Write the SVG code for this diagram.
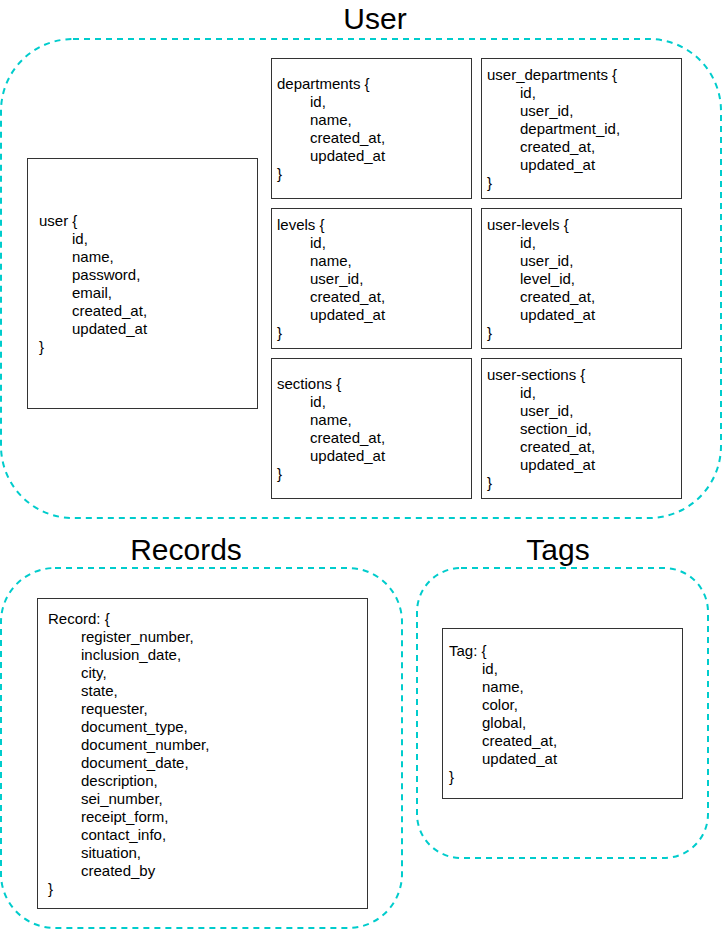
<svg xmlns="http://www.w3.org/2000/svg" width="722" height="929" viewBox="0 0 722 929">
<style>
.grp{fill:none;stroke:#00CCCC;stroke-width:2;stroke-dasharray:6 5}
.tbl{fill:#fff;stroke:#333;stroke-width:1}
.t{font-family:"Liberation Sans",Arial,sans-serif;font-size:15px;fill:#000}
.title{font-family:"Liberation Sans",Arial,sans-serif;font-size:30px;fill:#000;text-anchor:middle}
</style>
<rect width="722" height="929" fill="#fff"/>
<g id="group-user">
<rect class="grp" x="1" y="39" width="720" height="479" rx="72" ry="72"/>
<text class="title" x="375" y="29">User</text>
</g>
<g id="group-records">
<rect class="grp" x="1" y="568" width="401" height="360" rx="54" ry="54"/>
<text class="title" x="186" y="560">Records</text>
</g>
<g id="group-tags">
<rect class="grp" x="417" y="568" width="291" height="290" rx="44" ry="44"/>
<text class="title" x="558" y="560">Tags</text>
</g>
<g id="user">
<rect class="tbl" x="27.5" y="158.5" width="230" height="250"/>
<text class="t"><tspan x="39" y="226">user {</tspan><tspan x="72" y="244">id,</tspan><tspan x="72" y="262">name,</tspan><tspan x="72" y="280">password,</tspan><tspan x="72" y="298">email,</tspan><tspan x="72" y="316">created_at,</tspan><tspan x="72" y="334">updated_at</tspan><tspan x="39" y="352">}</tspan></text>
</g>
<g id="departments">
<rect class="tbl" x="271.5" y="58.5" width="200" height="140"/>
<text class="t"><tspan x="277" y="89">departments {</tspan><tspan x="310" y="107">id,</tspan><tspan x="310" y="125">name,</tspan><tspan x="310" y="143">created_at,</tspan><tspan x="310" y="161">updated_at</tspan><tspan x="277" y="179">}</tspan></text>
</g>
<g id="user_departments">
<rect class="tbl" x="481.5" y="58.5" width="200" height="140"/>
<text class="t"><tspan x="487" y="80">user_departments {</tspan><tspan x="520" y="98">id,</tspan><tspan x="520" y="116">user_id,</tspan><tspan x="520" y="134">department_id,</tspan><tspan x="520" y="152">created_at,</tspan><tspan x="520" y="170">updated_at</tspan><tspan x="487" y="188">}</tspan></text>
</g>
<g id="levels">
<rect class="tbl" x="271.5" y="208.5" width="200" height="140"/>
<text class="t"><tspan x="277" y="230">levels {</tspan><tspan x="310" y="248">id,</tspan><tspan x="310" y="266">name,</tspan><tspan x="310" y="284">user_id,</tspan><tspan x="310" y="302">created_at,</tspan><tspan x="310" y="320">updated_at</tspan><tspan x="277" y="338">}</tspan></text>
</g>
<g id="user-levels">
<rect class="tbl" x="481.5" y="208.5" width="200" height="140"/>
<text class="t"><tspan x="487" y="230">user-levels {</tspan><tspan x="520" y="248">id,</tspan><tspan x="520" y="266">user_id,</tspan><tspan x="520" y="284">level_id,</tspan><tspan x="520" y="302">created_at,</tspan><tspan x="520" y="320">updated_at</tspan><tspan x="487" y="338">}</tspan></text>
</g>
<g id="sections">
<rect class="tbl" x="271.5" y="358.5" width="200" height="140"/>
<text class="t"><tspan x="277" y="389">sections {</tspan><tspan x="310" y="407">id,</tspan><tspan x="310" y="425">name,</tspan><tspan x="310" y="443">created_at,</tspan><tspan x="310" y="461">updated_at</tspan><tspan x="277" y="479">}</tspan></text>
</g>
<g id="user-sections">
<rect class="tbl" x="481.5" y="358.5" width="200" height="140"/>
<text class="t"><tspan x="487" y="380">user-sections {</tspan><tspan x="520" y="398">id,</tspan><tspan x="520" y="416">user_id,</tspan><tspan x="520" y="434">section_id,</tspan><tspan x="520" y="452">created_at,</tspan><tspan x="520" y="470">updated_at</tspan><tspan x="487" y="488">}</tspan></text>
</g>
<g id="record">
<rect class="tbl" x="37.5" y="598.5" width="330" height="310"/>
<text class="t"><tspan x="48" y="624">Record: {</tspan><tspan x="81" y="642">register_number,</tspan><tspan x="81" y="660">inclusion_date,</tspan><tspan x="81" y="678">city,</tspan><tspan x="81" y="696">state,</tspan><tspan x="81" y="714">requester,</tspan><tspan x="81" y="732">document_type,</tspan><tspan x="81" y="750">document_number,</tspan><tspan x="81" y="768">document_date,</tspan><tspan x="81" y="786">description,</tspan><tspan x="81" y="804">sei_number,</tspan><tspan x="81" y="822">receipt_form,</tspan><tspan x="81" y="840">contact_info,</tspan><tspan x="81" y="858">situation,</tspan><tspan x="81" y="876">created_by</tspan><tspan x="48" y="894">}</tspan></text>
</g>
<g id="tag">
<rect class="tbl" x="442.5" y="628.5" width="240" height="170"/>
<text class="t"><tspan x="449" y="656">Tag: {</tspan><tspan x="482" y="674">id,</tspan><tspan x="482" y="692">name,</tspan><tspan x="482" y="710">color,</tspan><tspan x="482" y="728">global,</tspan><tspan x="482" y="746">created_at,</tspan><tspan x="482" y="764">updated_at</tspan><tspan x="449" y="782">}</tspan></text>
</g>
<g id="connectors"></g>
</svg>
